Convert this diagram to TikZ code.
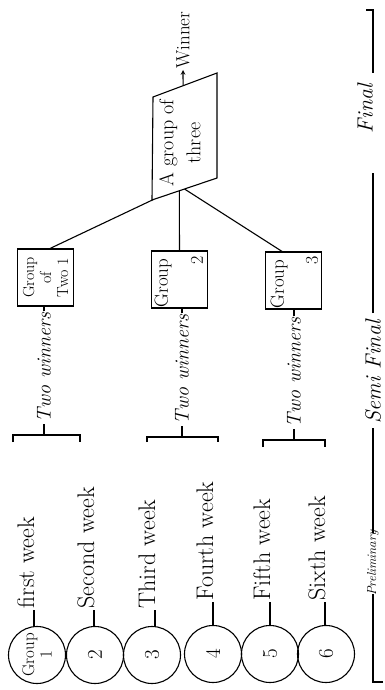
\documentclass[tikz,border=0pt]{standalone}
\usepackage{fontspec}
\usepackage{graphicx}
\usetikzlibrary{calc}

\begin{document}
\begin{tikzpicture}[x=1pt,y=-1pt,>=stealth,line width=1.1pt,
  pool/.style={draw,circle,minimum size=57pt,inner sep=0pt,font=\fontsize{21}{21}\selectfont},
  wk/.style={rotate=90,anchor=base west,inner sep=1pt,font=\fontsize{24}{26}\selectfont},
  wins/.style={rotate=90,anchor=west,inner sep=1pt,font=\itshape\fontsize{20}{22}\selectfont},
  grpbox/.style={draw,minimum width=56pt,minimum height=57pt,inner sep=0pt},
  grptxt/.style={rotate=90,align=center,inner sep=1pt,font=\fontsize{19}{19}\selectfont},
  phase/.style={rotate=90,inner sep=1pt,font=\itshape\fontsize{22}{24}\selectfont}]
  \useasboundingbox (0,0) rectangle (385,690);
  % preliminary: one group a week
  \node[pool] (c1) at (37,655) {\rotatebox{90}{\fontsize{17}{17}\selectfont\shortstack{Group\\1}}};
  \node[pool] (c2) at (95,655) {\rotatebox{90}{2}};
  \node[pool] (c3) at (152,655) {\rotatebox{90}{3}};
  \node[pool] (c4) at (213,654) {\rotatebox{90}{4}};
  \node[pool] (c5) at (270,654) {\rotatebox{90}{5}};
  \node[pool] (c6) at (326,654) {\rotatebox{90}{6}};
  \node[wk] (w1) at (34,610) {first week};
  \node[wk] (w2) at (94,610) {Second week};
  \node[wk] (w3) at (155,610) {Third week};
  \node[wk] (w4) at (213,602) {Fourth week};
  \node[wk] (w5) at (270,602) {Fifth week};
  \node[wk] (w6) at (325,602) {Sixth week};
  \draw (w1.base west) -- (w1.base west |- c1.north);
  \draw (w2.base west) -- (w2.base west |- c2.north);
  \draw (w3.base west) -- (w3.base west |- c3.north);
  \draw (w4.base west) -- (w4.base west |- c4.north);
  \draw (w5.base west) -- (w5.base west |- c5.north);
  \draw (w6.base west) -- (w6.base west |- c6.north);
  % brackets, two winners each
  \draw (13,442) |- (80,435) -- (80,442);
  \draw (147,442) |- (218,437) -- (218,442);
  \draw (263,447) |- (325,440) -- (325,447);
  \coordinate (k1) at (44,435);
  \coordinate (k2) at (182,437);
  \coordinate (k3) at (294,440);
  \node[wins] (t1) at (44,424) {Two winners};
  \node[wins] (t2) at (182,426) {Two winners};
  \node[wins] (t3) at (294,429) {Two winners};
  \draw (k1) -- (t1.west);
  \draw (k2) -- (t2.west);
  \draw (k3) -- (t3.west);
  % semi final
  \node[grpbox] (g1) at (45.5,277.5) {};
  \node[grpbox] (g2) at (179.5,279.5) {};
  \node[grpbox] (g3) at (293.5,280.5) {};
  \node[grptxt,font=\fontsize{16}{17}\selectfont] (g1t) at (g1) {Group\\of\\Two 1};
  \node[grptxt] (g2t) at (163,283) {Group};
  \node[grptxt,font=\fontsize{18}{18}\selectfont] (g2n) at (197,260) {2};
  \node[grptxt] (g3t) at (279,284) {Group};
  \node[grptxt,font=\fontsize{18}{18}\selectfont] (g3n) at (312,260) {3};
  \draw (t1.east) -- (t1.east |- g1.south);
  \draw (t2.east) -- (t2.east |- g2.south);
  \draw (t3.east) -- (t3.east |- g3.south);
  % final
  \coordinate (p1) at (153,97);
  \coordinate (p2) at (217,73);
  \coordinate (p3) at (217,178);
  \coordinate (p4) at (152,200);
  \draw (p1) -- (p2) -- (p3) -- (p4) -- cycle;
  \node[rotate=90,align=center,font=\fontsize{20}{27}\selectfont] (fin) at (180,143) {A group of\\three};
  \draw ($(g1.north west)!0.58!(g1.north east)$) -- ($(p4)!0.02!(p3)$);
  \draw (g2.north) -- ($(p4)!0.42!(p3)$);
  \draw ($(g3.north west)!0.3!(g3.north east)$) -- ($(p4)!0.5!(p3)$);
  \coordinate (wtop) at ($(p1)!0.47!(p2)$);
  \node[rotate=90,anchor=west,inner sep=1pt,font=\fontsize{19}{21}\selectfont] (win) at (183,70) {Winner};
  \draw[->] (wtop) -- (win.west);
  % stages
  \node[phase,font=\itshape\fontsize{13}{15}\selectfont] (pre) at (373,563) {Preliminary};
  \node[phase] (semi) at (373,372) {Semi Final};
  \node[phase] (fnl) at (365,109) {Final};
  \draw (383,682) -- (373,682) -- (373,594);
  \draw (373,533) -- (373,428);
  \draw (373,313) -- (373,173);
  \draw (373,73) -- (373,10) -- (366,10);
\end{tikzpicture}
\end{document}
